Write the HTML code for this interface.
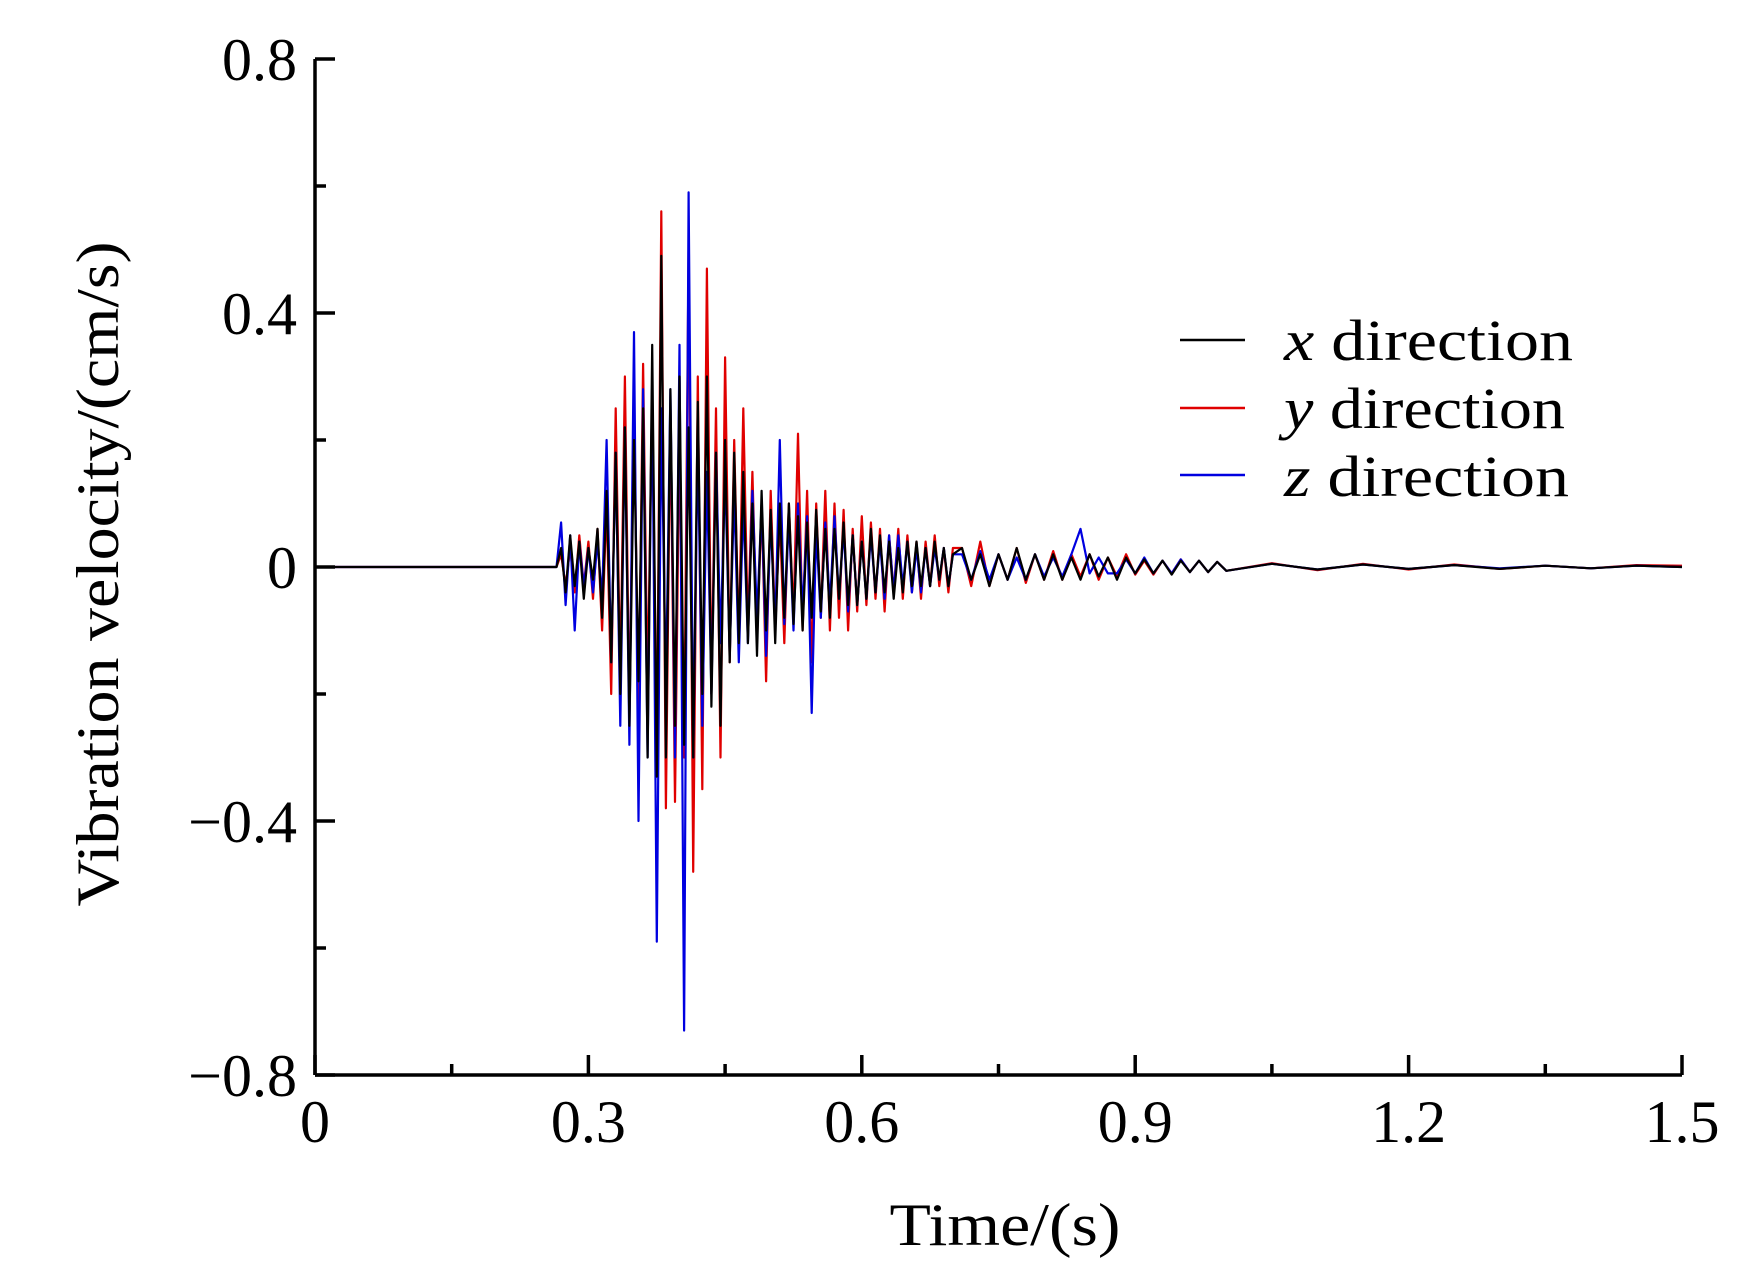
<!DOCTYPE html>
<html><head><meta charset="utf-8"><style>
html,body{margin:0;padding:0;background:#fff;}
svg{display:block;font-family:"Liberation Serif",serif;}
</style></head><body>
<svg id="chart" width="1757" height="1269" viewBox="0 0 1757 1269" xmlns="http://www.w3.org/2000/svg">
<g id="series"></g>
<g id="axes"></g>
<text x="1005" y="1245" font-size="60" text-anchor="middle" textLength="231" lengthAdjust="spacingAndGlyphs">Time/(s)</text>
<text transform="translate(118,574) rotate(-90)" font-size="60" text-anchor="middle" textLength="665" lengthAdjust="spacingAndGlyphs">Vibration velocity/(cm/s)</text>
<g>
<line x1="1180" y1="340" x2="1245" y2="340" stroke="#000" stroke-width="2.5"/>
<text x="1284" y="360" font-size="58" textLength="289" lengthAdjust="spacingAndGlyphs"><tspan font-style="italic">x</tspan> direction</text>
<line x1="1180" y1="408" x2="1245" y2="408" stroke="#e00000" stroke-width="2.5"/>
<text x="1284" y="428" font-size="58" textLength="281" lengthAdjust="spacingAndGlyphs"><tspan font-style="italic">y</tspan> direction</text>
<line x1="1180" y1="475" x2="1245" y2="475" stroke="#0000e0" stroke-width="2.5"/>
<text x="1284" y="496" font-size="58" textLength="285" lengthAdjust="spacingAndGlyphs"><tspan font-style="italic">z</tspan> direction</text>
</g>
</svg>
<script>
const timeSegments = [[0.270, 0.700, 0.005], [0.71, 1.00, 0.01], [1.05, 1.50, 0.05]];
const xTicks = [0, 0.3, 0.6, 0.9, 1.2, 1.5];
const xTickLabels = ["0", "0.3", "0.6", "0.9", "1.2", "1.5"];
const yTicks = [0.8, 0.4, 0, -0.4, -0.8];
const yTickLabels = ["0.8", "0.4", "0", "\u22120.4", "\u22120.8"];
const xDir = [0,0,
0.03,-0.04,0.05,-0.03,0.04,-0.05,0.03,-0.02,0.06,-0.08,
0.12,-0.15,0.18,-0.2,0.22,-0.25,0.2,-0.18,0.25,-0.3,
0.35,-0.33,0.49,-0.3,0.28,-0.25,0.3,-0.28,0.22,-0.3,
0.26,-0.2,0.3,-0.22,0.18,-0.25,0.2,-0.15,0.18,-0.12,
0.15,-0.12,0.1,-0.14,0.12,-0.1,0.09,-0.12,0.1,-0.08,
0.1,-0.09,0.08,-0.1,0.07,-0.08,0.09,-0.07,0.06,-0.08,
0.06,-0.05,0.07,-0.06,0.05,-0.06,0.04,-0.05,0.06,-0.04,
0.05,-0.04,0.04,-0.05,0.03,-0.04,0.04,-0.03,0.04,-0.03,
0.03,-0.03,0.04,-0.02,0.03,-0.03,0.02,
0.03,-0.02,0.02,-0.03,0.02,-0.02,0.03,-0.02,0.02,-0.02,
0.02,-0.02,0.015,-0.02,0.02,-0.015,0.015,-0.02,0.015,-0.01,
0.012,-0.01,0.01,-0.012,0.01,-0.008,0.01,-0.008,0.008,-0.006,
0.005,-0.004,0.004,-0.003,0.003,-0.003,0.002,-0.002,0.002,0];
const yDir = [0,0,
0.02,-0.03,0.03,-0.04,0.05,-0.03,0.04,-0.05,0.06,-0.1,
0.1,-0.2,0.25,-0.18,0.3,-0.23,0.27,-0.25,0.32,-0.2,
0.28,-0.3,0.56,-0.38,0.25,-0.37,0.22,-0.3,0.5,-0.48,
0.3,-0.35,0.47,-0.2,0.25,-0.3,0.33,-0.15,0.2,-0.12,
0.25,-0.1,0.15,-0.12,0.1,-0.18,0.12,-0.1,0.08,-0.12,
0.1,-0.08,0.21,-0.1,0.12,-0.15,0.1,-0.08,0.12,-0.1,
0.1,-0.08,0.09,-0.1,0.06,-0.07,0.08,-0.06,0.07,-0.05,
0.06,-0.07,0.05,-0.04,0.06,-0.05,0.05,-0.04,0.04,-0.05,
0.04,-0.03,0.05,-0.03,0.03,-0.04,0.03,
0.03,-0.03,0.04,-0.03,0.02,-0.02,0.03,-0.025,0.02,-0.02,
0.025,-0.02,0.02,-0.015,0.02,-0.02,0.015,-0.015,0.02,-0.012,
0.01,-0.012,0.01,-0.01,0.012,-0.008,0.01,-0.008,0.008,-0.006,
0.006,-0.005,0.005,-0.004,0.004,-0.003,0.002,-0.002,0.003,0.002];
const zDir = [0,0,
0.07,-0.06,0.05,-0.1,0.04,-0.03,0.03,-0.04,0.04,-0.05,
0.2,-0.15,0.18,-0.25,0.22,-0.28,0.37,-0.4,0.28,-0.3,
0.3,-0.59,0.25,-0.2,0.28,-0.3,0.35,-0.73,0.59,-0.3,
0.2,-0.25,0.15,-0.2,0.18,-0.12,0.15,-0.14,0.12,-0.15,
0.1,-0.12,0.12,-0.08,0.1,-0.14,0.08,-0.1,0.2,-0.09,
0.08,-0.1,0.1,-0.07,0.08,-0.23,0.06,-0.08,0.07,-0.06,
0.08,-0.05,0.06,-0.07,0.05,-0.06,0.04,-0.05,0.05,-0.04,
0.04,-0.05,0.05,-0.04,0.05,-0.03,0.04,-0.04,0.03,-0.04,
0.03,-0.03,0.03,-0.02,0.03,-0.03,0.02,
0.02,-0.02,0.025,-0.02,0.02,-0.02,0.015,-0.02,0.02,-0.015,
0.015,-0.015,0.02,0.06,-0.01,0.015,-0.01,-0.01,0.012,-0.01,
0.015,-0.01,0.01,-0.01,0.012,-0.008,0.01,-0.008,0.008,-0.006,
0.005,-0.004,0.004,-0.003,0.003,-0.002,0.002,-0.002,0.002,0];

const NS = "http://www.w3.org/2000/svg";
const L = 315, R = 1682, T = 59, B = 1075;
const xS = v => L + (v - 0) / 1.5 * (R - L);
const yS = v => T + (0.8 - v) / 1.6 * (B - T);

const times = [0, 0.265];
timeSegments.forEach(s => {
  const n = Math.round((s[1] - s[0]) / s[2]);
  for (let i = 0; i <= n; i++) times.push(+(s[0] + i * s[2]).toFixed(4));
});

const series = document.getElementById('series');
[[yDir, '#e00000', 'series-y-direction'], [zDir, '#0000e0', 'series-z-direction'], [xDir, '#000', 'series-x-direction']].forEach(([vals, col, name]) => {
  const n = Math.min(vals.length, times.length);
  let d = '';
  for (let i = 0; i < n; i++) d += (i ? 'L' : 'M') + xS(times[i]).toFixed(1) + ',' + yS(vals[i]).toFixed(1);
  const p = document.createElementNS(NS, 'path');
  p.setAttribute('d', d);
  p.setAttribute('fill', 'none');
  p.setAttribute('stroke', col);
  p.setAttribute('stroke-width', '2.2');
  p.setAttribute('stroke-linejoin', 'round');
  
  
  series.appendChild(p);
});

const axes = document.getElementById('axes');
function line(x1, y1, x2, y2, name) {
  const l = document.createElementNS(NS, 'line');
  l.setAttribute('x1', x1); l.setAttribute('y1', y1);
  l.setAttribute('x2', x2); l.setAttribute('y2', y2);
  l.setAttribute('stroke', '#000'); l.setAttribute('stroke-width', '3.5');
  
  
  axes.appendChild(l);
}
function text(x, y, s, anchor, name) {
  const t = document.createElementNS(NS, 'text');
  t.setAttribute('x', x); t.setAttribute('y', y);
  t.setAttribute('font-size', '60');
  t.setAttribute('text-anchor', anchor);
  t.textContent = s;
  
  
  axes.appendChild(t);
}
line(L, T, L, B, 'y-axis-line');
line(L, B, R, B, 'x-axis-line');
yTicks.forEach((v, i) => {
  line(L, yS(v), L + 20, yS(v), 'y-tick');
  text(L - 18, yS(v) + 21, yTickLabels[i], 'end', 'y-tick-label');
  if (i < yTicks.length - 1) line(L, yS(v - 0.2), L + 11, yS(v - 0.2), 'y-minor-tick');
});
xTicks.forEach((v, i) => {
  line(xS(v), B, xS(v), B - 20, 'x-tick');
  text(xS(v), B + 67, xTickLabels[i], 'middle', 'x-tick-label');
  if (i < xTicks.length - 1) line(xS(v + 0.15), B, xS(v + 0.15), B - 11, 'x-minor-tick');
});
</script>
</body></html>
